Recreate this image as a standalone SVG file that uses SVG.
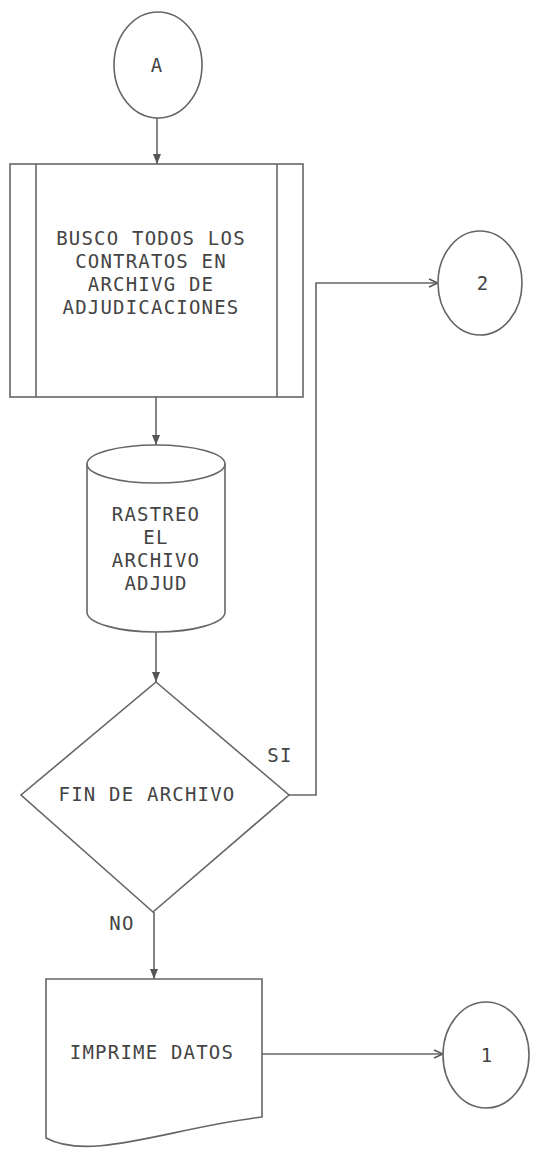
<svg xmlns="http://www.w3.org/2000/svg" width="535" height="1152" viewBox="0 0 535 1152">
<style>
.s{fill:none;stroke:#666;stroke-width:1.6}
.w{fill:#fff;stroke:#666;stroke-width:1.6}
.t{font-family:"DejaVu Sans Mono","Liberation Mono",monospace;font-size:19px;letter-spacing:1.2px;fill:#444;text-anchor:middle}
.c{fill:none;stroke:#666;stroke-width:1.6}
</style>
<defs>
<marker id="fa" viewBox="0 0 10 10" refX="10" refY="5" markerWidth="10" markerHeight="10" markerUnits="userSpaceOnUse" orient="auto">
<path d="M0,1 L10,5 L0,9 Z" fill="#555"/>
</marker>
<marker id="oa" viewBox="0 0 10 10" refX="10" refY="5" markerWidth="10" markerHeight="10" markerUnits="userSpaceOnUse" orient="auto">
<path d="M1,1 L10,5 L1,9" fill="none" stroke="#555" stroke-width="1.5"/>
</marker>
</defs>
<rect width="535" height="1152" fill="#fff"/>
<g id="connectors">
<line class="c" x1="157" y1="118" x2="157" y2="164" marker-end="url(#fa)"/>
<line class="c" x1="156" y1="397" x2="156" y2="445" marker-end="url(#fa)"/>
<line class="c" x1="156" y1="632" x2="156" y2="682" marker-end="url(#fa)"/>
<polyline class="c" points="289,795 316,795 316,283 438,283" marker-end="url(#oa)"/>
<line class="c" x1="154" y1="912" x2="154" y2="979" marker-end="url(#fa)"/>
<line class="c" x1="262" y1="1054" x2="443" y2="1054" marker-end="url(#oa)"/>
<text class="t" x="280" y="762">SI</text>
<text class="t" x="122" y="930">NO</text>
</g>
<g id="nodeA">
<ellipse class="w" cx="158" cy="65" rx="44" ry="53"/>
<text class="t" x="157" y="72">A</text>
</g>
<g id="busco">
<rect class="w" x="10" y="164" width="293" height="233"/>
<line class="s" x1="36" y1="164" x2="36" y2="397"/>
<line class="s" x1="277" y1="164" x2="277" y2="397"/>
<text class="t" x="151" y="245">BUSCO TODOS LOS</text>
<text class="t" x="151" y="268">CONTRATOS EN</text>
<text class="t" x="151" y="291">ARCHIVG DE</text>
<text class="t" x="151" y="314">ADJUDICACIONES</text>
</g>
<g id="rastreo">
<path class="w" d="M87,464 L87,612 A69,20 0 0 0 225,612 L225,464"/>
<ellipse class="w" cx="156" cy="464" rx="69" ry="19"/>
<text class="t" x="156" y="521">RASTREO</text>
<text class="t" x="156" y="544">EL</text>
<text class="t" x="156" y="567">ARCHIVO</text>
<text class="t" x="156" y="590">ADJUD</text>
</g>
<g id="fin">
<polygon class="w" points="156,682 289,795 153,912 21,795"/>
<text class="t" x="147" y="801">FIN DE ARCHIVO</text>
</g>
<g id="imprime">
<path class="w" d="M46,979 L262,979 L262,1117 C170,1128 90,1162 46,1138 Z"/>
<text class="t" x="152" y="1059">IMPRIME DATOS</text>
</g>
<g id="node2">
<ellipse class="w" cx="480" cy="283" rx="42" ry="52"/>
<text class="t" x="483" y="290">2</text>
</g>
<g id="node1">
<ellipse class="w" cx="486" cy="1055" rx="43" ry="53"/>
<text class="t" x="487" y="1062">1</text>
</g>
</svg>
